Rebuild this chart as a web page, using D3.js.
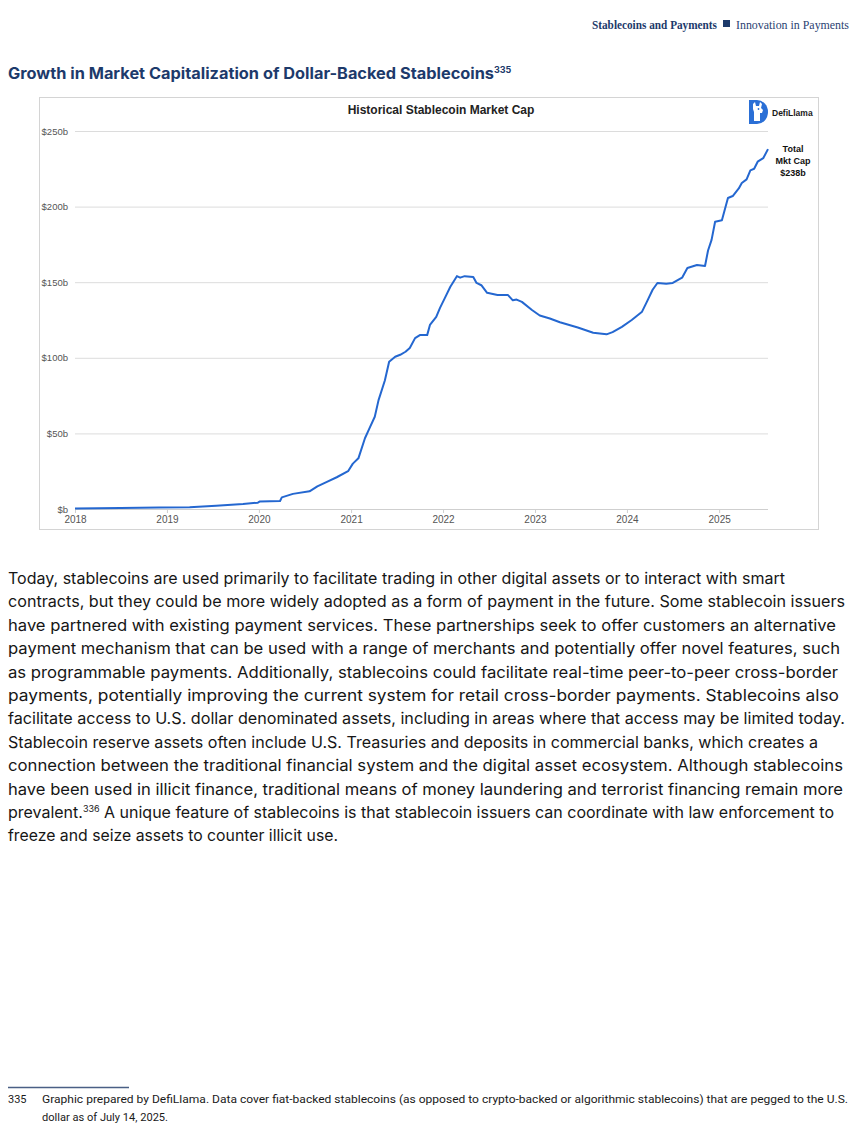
<!DOCTYPE html>
<html>
<head>
<meta charset="utf-8">
<script src="https://cdn.jsdelivr.net/npm/d3@7"></script>
<style>
  html, body { margin: 0; padding: 0; background: #fff; }
  svg { display: block; }
</style>
</head>
<body>
<svg id="page" width="857" height="1127"></svg>
<script>
// series (billions USD)
const dates = [
  "2018-01-01","2018-07-01","2018-12-01","2019-04-01","2019-07-15","2019-10-30","2019-12-28",
  "2020-01-05","2020-03-25","2020-04-01","2020-05-15","2020-07-20","2020-08-20","2020-09-27",
  "2020-11-05","2020-12-20","2021-01-08","2021-01-30","2021-02-25","2021-03-18","2021-04-05",
  "2021-04-20","2021-05-15","2021-06-01","2021-06-25","2021-07-15","2021-08-05","2021-08-22","2021-09-12",
  "2021-10-01","2021-10-30","2021-11-10","2021-12-05","2021-12-20","2022-01-08","2022-01-30",
  "2022-02-25","2022-03-10","2022-03-28","2022-05-01","2022-05-14","2022-06-02","2022-06-25","2022-08-05",
  "2022-09-16","2022-10-05","2022-10-20","2022-11-10","2022-12-20","2023-01-20","2023-03-01","2023-04-10","2023-06-20",
  "2023-08-20","2023-10-12","2023-11-05","2023-12-12","2024-01-20","2024-03-01","2024-03-20",
  "2024-04-12","2024-05-01","2024-06-05","2024-07-01","2024-08-07","2024-08-28","2024-10-05","2024-11-06",
  "2024-11-18","2024-12-02","2024-12-16","2025-01-12","2025-02-05","2025-02-24","2025-03-20","2025-04-01",
  "2025-04-20","2025-05-05","2025-05-20","2025-06-03","2025-06-25","2025-07-14"
];
const mcap = [
  0.4, 0.7, 1.0, 1.2, 2.2, 3.3, 4.2,
  5.0, 5.3, 7.7, 10, 11.7, 15, 18,
  21, 25, 30, 33.5, 46.8, 54.5, 61,
  72, 85, 97.4, 100.7, 102, 104, 106.5, 113,
  115, 115, 121.7, 127, 133, 139.5, 147,
  154, 153, 154, 153.4, 149.5, 148, 143, 141.5,
  141.5, 138, 138.5, 137, 131.6, 128, 126, 123.5, 120,
  116.6, 115.5, 117, 120.5, 125, 130.5, 137,
  145, 149.5, 149, 149.5, 153, 159.4, 161.4, 160.7,
  171, 178, 190, 191, 205.7, 207, 212, 215.6,
  218, 224, 225, 229.7, 232, 238
];
const yTicks = [0, 50, 100, 150, 200, 250];
const yTickLabels = ["$b", "$50b", "$100b", "$150b", "$200b", "$250b"];
const xTickYears = [2018, 2019, 2020, 2021, 2022, 2023, 2024, 2025];
const totalLabel = ["Total", "Mkt Cap", "$238b"];

const bodyLines = [
  ["Today, stablecoins are used primarily to facilitate trading in other digital assets or to interact with smart", 777],
  ["contracts, but they could be more widely adopted as a form of payment in the future. Some stablecoin issuers", 837],
  ["have partnered with existing payment services. These partnerships seek to offer customers an alternative", 828],
  ["payment mechanism that can be used with a range of merchants and potentially offer novel features, such", 832],
  ["as programmable payments. Additionally, stablecoins could facilitate real-time peer-to-peer cross-border", 830],
  ["payments, potentially improving the current system for retail cross-border payments. Stablecoins also", 831],
  ["facilitate access to U.S. dollar denominated assets, including in areas where that access may be limited today.", 837],
  ["Stablecoin reserve assets often include U.S. Treasuries and deposits in commercial banks, which creates a", 810],
  ["connection between the traditional financial system and the digital asset ecosystem. Although stablecoins", 835],
  ["have been used in illicit finance, traditional means of money laundering and terrorist financing remain more", 835],
  ["prevalent.|336| A unique feature of stablecoins is that stablecoin issuers can coordinate with law enforcement to", 826],
  ["freeze and seize assets to counter illicit use.", 330]
];
const footLines = [
  ["Graphic prepared by DefiLlama. Data cover fiat-backed stablecoins (as opposed to crypto-backed or algorithmic stablecoins) that are pegged to the U.S.", 806],
  ["dollar as of July 14, 2025.", 126]
];

const svg = d3.select("#page");
const navy = "#1d3a6b";
const parseDate = d3.timeParse("%Y-%m-%d");
const data = dates.map((d, i) => ({date: parseDate(d), value: mcap[i]}));

// page header
svg.append("text").attr("x", 592).attr("y", 29)
  .attr("font-family", "Liberation Serif, serif").attr("font-weight", "bold")
  .attr("font-size", 13.5).attr("fill", navy)
  .attr("textLength", 125).attr("lengthAdjust", "spacingAndGlyphs")
  .text("Stablecoins and Payments");
svg.append("rect").attr("x", 723).attr("y", 20).attr("width", 7).attr("height", 7).attr("fill", navy);
svg.append("text").attr("x", 736).attr("y", 29)
  .attr("font-family", "Liberation Serif, serif")
  .attr("font-size", 12).attr("fill", "#2c4272")
  .attr("textLength", 113).attr("lengthAdjust", "spacingAndGlyphs")
  .text("Innovation in Payments");

// figure title
const ttl = svg.append("text").attr("x", 8).attr("y", 79)
  .attr("font-family", "Inter, sans-serif").attr("font-weight", "bold")
  .attr("font-size", 15.5).attr("fill", navy);
ttl.append("tspan").attr("textLength", 486).attr("lengthAdjust", "spacingAndGlyphs")
  .text("Growth in Market Capitalization of Dollar-Backed Stablecoins");
ttl.append("tspan").attr("font-size", 9).attr("dy", -6).text("335");

// chart frame
svg.append("rect").attr("x", 39.5).attr("y", 97.5).attr("width", 779).attr("height", 432)
  .attr("fill", "#fff").attr("stroke", "#d4d4d4");

const x = d3.scaleTime().domain([parseDate("2018-01-01"), parseDate("2025-07-14")]).range([75, 768]);
const y = d3.scaleLinear().domain([0, 250]).range([509, 131]);

const chart = svg.append("g").attr("font-family", "Liberation Sans, Arial, sans-serif");

chart.append("text").attr("x", 441).attr("y", 114).attr("text-anchor", "middle")
  .attr("font-weight", "bold").attr("font-size", 12).attr("fill", "#222")
  .text("Historical Stablecoin Market Cap");

// gridlines + y labels
const yAxis = d3.axisLeft(y).tickValues(yTicks)
  .tickSize(-(768 - 75)).tickPadding(7)
  .tickFormat((d, i) => yTickLabels[i]);
const gy = chart.append("g").attr("transform", "translate(75,0)").call(yAxis);
gy.select(".domain").remove();
gy.selectAll(".tick line").attr("stroke", "#dcdcdc").attr("stroke-width", 1);
gy.selectAll(".tick text").attr("font-size", 9.5).attr("fill", "#555")
  .attr("font-family", "Liberation Sans, Arial, sans-serif");

// x axis
const xAxis = d3.axisBottom(x).tickValues(xTickYears.map(yr => new Date(yr, 0, 1)))
  .tickSize(4).tickPadding(3).tickFormat(d3.timeFormat("%Y"));
const gx = chart.append("g").attr("transform", "translate(0,509)").call(xAxis);
gx.select(".domain").attr("stroke", "#cfcfcf").attr("d", "M75,0.5H768");
gx.selectAll(".tick line").attr("stroke", "#cfcfcf");
gx.selectAll(".tick text").attr("font-size", 10).attr("fill", "#555")
  .attr("font-family", "Liberation Sans, Arial, sans-serif");

// the series
const line = d3.line().x(d => x(d.date)).y(d => y(d.value)).curve(d3.curveLinear);
chart.append("path").datum(data).attr("d", line)
  .attr("fill", "none").attr("stroke", "#2467d0").attr("stroke-width", 2)
  .attr("stroke-linejoin", "round");

// total annotation
chart.selectAll(".tot").data(totalLabel).join("text")
  .attr("x", 793).attr("y", (d, i) => 152 + i * 12)
  .attr("text-anchor", "middle").attr("font-weight", "bold").attr("font-size", 9)
  .attr("fill", "#111").text(d => d);

// DefiLlama logo
const logo = svg.append("g").attr("transform", "translate(748,100)");
logo.append("path").attr("d", "M1,0 H9 A11,12 0 0 1 9,24 H1 Z").attr("fill", "#2a6fd6");
logo.append("path").attr("d", "M5,4 L7,2 L8,6 L11,6 L12,2 L14,4 L13,8 L15,10 L14,13 L12,13 L12,21 L6,21 L6,12 L5,9 Z")
  .attr("fill", "#fff");
logo.append("circle").attr("cx", 10.5).attr("cy", 9).attr("r", 0.9).attr("fill", "#2a6fd6");
svg.append("text").attr("x", 772).attr("y", 116)
  .attr("font-family", "Liberation Sans, Arial, sans-serif").attr("font-weight", "bold")
  .attr("font-size", 8.5).attr("fill", "#1a1a1a").text("DefiLlama");

// body paragraph
const body = svg.append("g").attr("font-family", "Inter, sans-serif")
  .attr("font-size", 16).attr("fill", "#161616");
bodyLines.forEach(([txt, w], i) => {
  const t = body.append("text").attr("x", 8).attr("y", 584 + i * 23.4)
    .attr("textLength", w).attr("lengthAdjust", "spacingAndGlyphs");
  const parts = txt.split("|");
  if (parts.length === 1) {
    t.text(txt);
  } else {
    t.append("tspan").text(parts[0]);
    t.append("tspan").attr("font-size", 9).attr("dy", -6).text(parts[1]);
    t.append("tspan").attr("dy", 6).text(parts[2]);
  }
});

// footnote
svg.append("line").attr("x1", 8).attr("x2", 129).attr("y1", 1087.5).attr("y2", 1087.5)
  .attr("stroke", "#4a5f85").attr("stroke-width", 1.3);
const foot = svg.append("g").attr("font-family", "Liberation Sans Narrow, Roboto, sans-serif")
  .attr("font-size", 11).attr("fill", "#1a1a1a");
foot.append("text").attr("x", 8).attr("y", 1103).text("335");
footLines.forEach(([txt, w], i) => {
  foot.append("text").attr("x", 42).attr("y", 1103 + i * 18)
    .attr("textLength", w).attr("lengthAdjust", "spacingAndGlyphs").text(txt);
});
</script>
</body>
</html>
